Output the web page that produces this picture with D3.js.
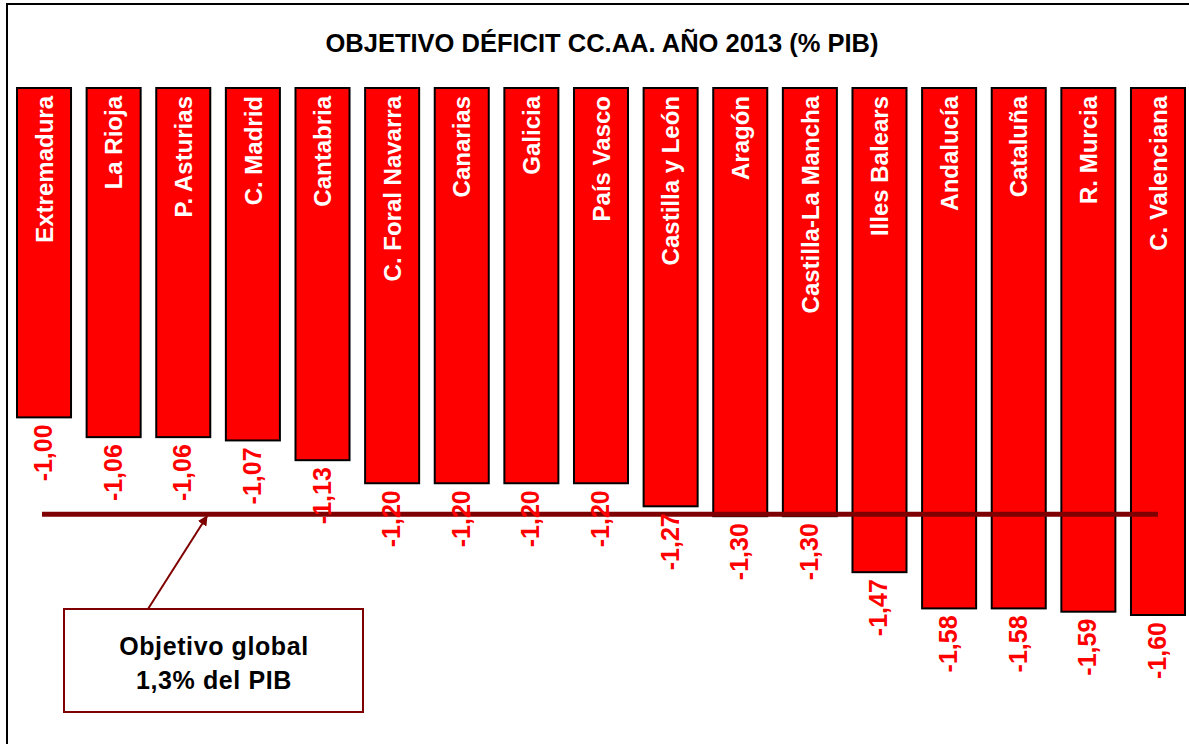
<!DOCTYPE html>
<html lang="es">
<head>
<meta charset="UTF-8">
<title>Objetivo déficit CC.AA. 2013</title>
<script src="https://d3js.org/d3.v7.min.js"></script>
<style>
  body { margin: 0; background: #fff; }
  svg text { font-family: "Liberation Sans", Arial, sans-serif; font-weight: bold; }
</style>
</head>
<body>
<svg id="chart" width="1189" height="744"></svg>
<script>
// datos
var regiones = ["Extremadura", "La Rioja", "P. Asturias", "C. Madrid", "Cantabria",
  "C. Foral Navarra", "Canarias", "Galicia", "País Vasco", "Castilla y León", "Aragón",
  "Castilla-La Mancha", "Illes Balears", "Andalucía", "Cataluña", "R. Murcia", "C. Valenciana"];
var objetivos = [-1.00, -1.06, -1.06, -1.07, -1.13, -1.20, -1.20, -1.20, -1.20, -1.27,
  -1.30, -1.30, -1.47, -1.58, -1.58, -1.59, -1.60];
var objetivoGlobal = -1.3;
var titulo = "OBJETIVO DÉFICIT CC.AA. AÑO 2013 (% PIB)";
var notaLineas = ["Objetivo global", "1,3% del PIB"];

var svg = d3.select("#chart");
var oscuro = "#7f0000";

// marco
svg.append("rect")
  .attr("x", 7).attr("y", 4)
  .attr("width", 1200).attr("height", 760)
  .attr("fill", "none").attr("stroke", "#000").attr("stroke-width", 2);

svg.append("text")
  .attr("x", 602).attr("y", 52)
  .attr("text-anchor", "middle")
  .style("font-size", "25.5px")
  .text(titulo);

var x = d3.scaleBand().domain(regiones).range([17, 1185]).paddingInner(0.224).paddingOuter(0);
var y = d3.scaleLinear().domain([0, -1.6]).range([88, 615]);
// coma decimal y guion normal, como en el original
var es = d3.formatLocale({ decimal: ",", thousands: ".", grouping: [3], currency: ["", " €"], minus: "-" });
var fmt = es.format(".2f");

var datos = regiones.map(function(r, i) { return { nombre: r, valor: objetivos[i] }; });

svg.append("g").selectAll("rect")
  .data(datos).enter().append("rect")
  .attr("x", function(d) { return x(d.nombre); })
  .attr("y", y(0))
  .attr("width", x.bandwidth())
  .attr("height", function(d) { return y(d.valor) - y(0); })
  .attr("fill", "#ff0000")
  .attr("stroke", "#000")
  .attr("stroke-width", 2);

// nombres dentro de las barras
svg.append("g").selectAll("text")
  .data(datos).enter().append("text")
  .attr("transform", function(d) {
    return "translate(" + (x(d.nombre) + x.bandwidth() / 2) + "," + (y(0) + 8) + ") rotate(-90)";
  })
  .attr("text-anchor", "end")
  .attr("dy", "0.36em")
  .attr("fill", "#fff")
  .style("font-size", "24px")
  .text(function(d) { return d.nombre; });

// línea objetivo global
var cx0 = x(regiones[0]) + x.bandwidth() / 2;
var cx1 = x(regiones[regiones.length - 1]) + x.bandwidth() / 2;
svg.append("line")
  .attr("x1", cx0 - 2).attr("x2", cx1)
  .attr("y1", y(objetivoGlobal) - 2).attr("y2", y(objetivoGlobal) - 2)
  .attr("stroke", oscuro).attr("stroke-width", 5);

// valores
svg.append("g").selectAll("text")
  .data(datos).enter().append("text")
  .attr("transform", function(d) {
    return "translate(" + (x(d.nombre) + x.bandwidth() / 2 - 1) + "," + (y(d.valor) + 7) + ") rotate(-90)";
  })
  .attr("text-anchor", "end")
  .attr("dy", "0.36em")
  .attr("fill", "#ff0000")
  .style("font-size", "25px")
  .text(function(d) { return fmt(d.valor); });

// nota con flecha
svg.append("defs").append("marker")
  .attr("id", "punta")
  .attr("viewBox", "0 0 10 10")
  .attr("refX", 9).attr("refY", 5)
  .attr("markerWidth", 5).attr("markerHeight", 5)
  .attr("orient", "auto")
  .append("path").attr("d", "M0,0 L10,5 L0,10 z").attr("fill", oscuro);

svg.append("line")
  .attr("x1", 148).attr("y1", 609)
  .attr("x2", 207).attr("y2", y(objetivoGlobal))
  .attr("stroke", oscuro).attr("stroke-width", 2)
  .attr("marker-end", "url(#punta)");

svg.append("rect")
  .attr("x", 64).attr("y", 609)
  .attr("width", 299).attr("height", 103)
  .attr("fill", "#fff").attr("stroke", oscuro).attr("stroke-width", 2);

svg.append("g").selectAll("text")
  .data(notaLineas).enter().append("text")
  .attr("x", 214)
  .attr("y", function(d, i) { return 655 + i * 34; })
  .attr("text-anchor", "middle")
  .style("font-size", "25px")
  .style("letter-spacing", "0.6px")
  .text(function(d) { return d; });
</script>
</body>
</html>
